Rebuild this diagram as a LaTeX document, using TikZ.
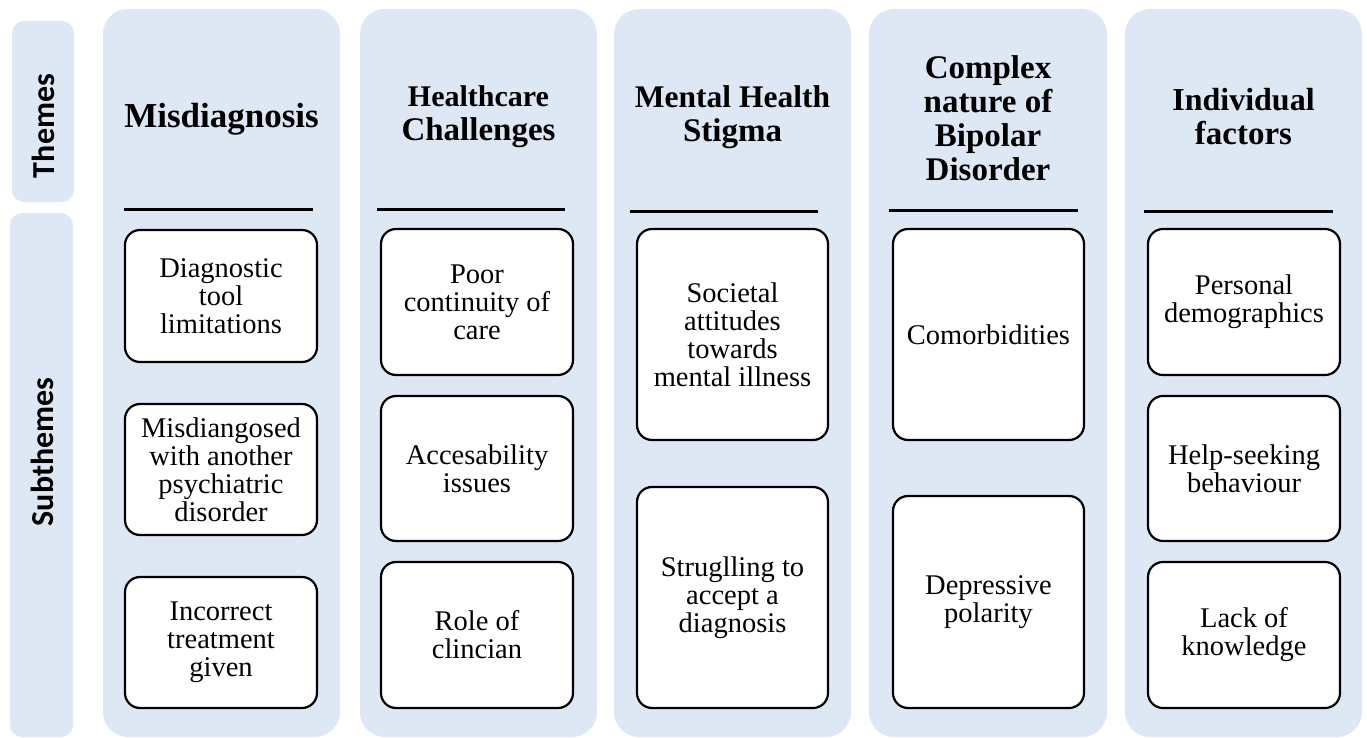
\documentclass[tikz,border=0pt]{standalone}
\usepackage{fontspec}
\setmainfont{Liberation Serif}
\newfontfamily\labelfont{Carlito}
\definecolor{panelblue}{HTML}{DEE8F4}
\begin{document}
\begin{tikzpicture}[x=1pt,y=-1pt,
  panel/.style={fill=panelblue, draw=none, rounded corners=25pt},
  sidepanel/.style={fill=panelblue, draw=none, rounded corners=12pt},
  sidelabel/.style={rotate=90, font=\labelfont\bfseries\fontsize{32}{32}\selectfont},
  theme/.style={align=center, font=\bfseries\fontsize{33}{34}\selectfont, inner sep=0pt},
  rule/.style={line width=3pt},
  subbox/.style={draw=black, fill=white, line width=2.2pt, rounded corners=15pt,
    align=center, inner sep=2pt, font=\fontsize{28.5}{28}\selectfont}]
\useasboundingbox (0,0) rectangle (1367,738);

% side labels
\fill[sidepanel] (12,21) rectangle (74,202);
\fill[sidepanel] (10,213) rectangle (73,737);
\node[sidelabel] (lthemes) at (43,126) {Themes};
\node[sidelabel] (lsub) at (42,452) {Subthemes};

% theme columns
\fill[panel] (103,9) rectangle (340,737);
\fill[panel] (360,9) rectangle (597,737);
\fill[panel] (614,9) rectangle (851,737);
\fill[panel] (869,9) rectangle (1107,737);
\fill[panel] (1125,9) rectangle (1362,737);

% theme titles
\node[theme, font=\bfseries\fontsize{35}{34}\selectfont] (t1) at (221.5,119) {Misdiagnosis};
\node[theme] (t2) at (478.5,117) {{\fontsize{30}{34}\selectfont Healthcare}\\Challenges};
\node[theme] (t3) at (732.5,117) {{\fontsize{31.5}{34}\selectfont Mental Health}\\Stigma};
\node[theme] (t4) at (988,118) {Complex\\nature of\\Bipolar\\Disorder};
\node[theme] (t5) at (1243.5,117) {{\fontsize{32}{34}\selectfont Individual}\\factors};

% separators
\draw[rule] (124,209) -- (313,209);
\draw[rule] (377,209) -- (565,209);
\draw[rule] (630,211) -- (818,211);
\draw[rule] (889,210) -- (1078,210);
\draw[rule] (1144,211) -- (1333,211);

% Misdiagnosis
\node[subbox, minimum width=192pt, minimum height=132pt] (m1) at (221,296) {Diagnostic\\tool\\limitations};
\node[subbox, minimum width=192pt, minimum height=131pt] (m2) at (221,469.5) {Misdiangosed\\with another\\psychiatric\\disorder};
\node[subbox, minimum width=192pt, minimum height=131pt] (m3) at (221,642.5) {Incorrect\\treatment\\given};

% Healthcare Challenges
\node[subbox, minimum width=192pt, minimum height=146pt] (h1) at (477,302) {Poor\\continuity of\\care};
\node[subbox, minimum width=192pt, minimum height=145pt] (h2) at (477,468.5) {Accesability\\issues};
\node[subbox, minimum width=192pt, minimum height=146pt] (h3) at (477,635) {Role of\\clincian};

% Mental Health Stigma
\node[subbox, minimum width=191pt, minimum height=211pt] (s1) at (732.5,334.5) {Societal\\attitudes\\towards\\mental illness};
\node[subbox, minimum width=191pt, minimum height=221pt] (s2) at (732.5,597.5) {Struglling to\\accept a\\diagnosis};

% Complex nature of Bipolar Disorder
\node[subbox, minimum width=191pt, minimum height=211pt] (c1) at (988.5,334.5) {Comorbidities};
\node[subbox, minimum width=191pt, minimum height=212pt] (c2) at (988.5,602) {Depressive\\polarity};

% Individual factors
\node[subbox, minimum width=192pt, minimum height=146pt] (i1) at (1244,302) {Personal\\demographics};
\node[subbox, minimum width=192pt, minimum height=145pt] (i2) at (1244,468.5) {Help-seeking\\behaviour};
\node[subbox, minimum width=192pt, minimum height=146pt] (i3) at (1244,635) {Lack of\\knowledge};
\end{tikzpicture}
\end{document}
